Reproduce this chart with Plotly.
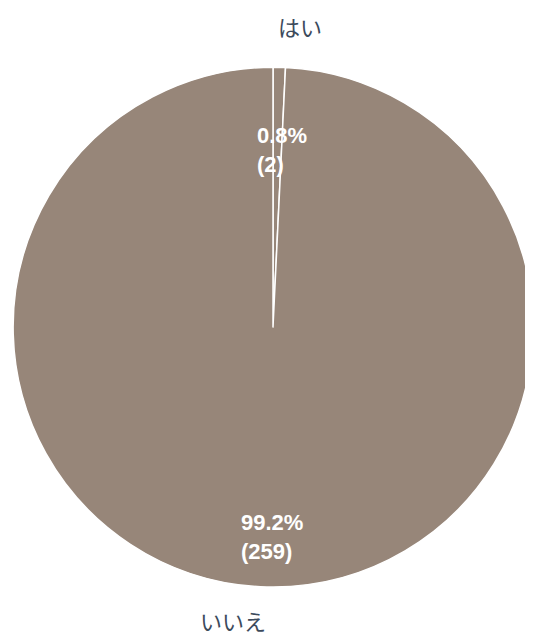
import plotly.graph_objects as go

labels = ["はい", "いいえ"]
values = [2, 259]
colors = ["#978679", "#978679"]

W, H = 525, 630   # figure size (page body has an 8px margin)
OFF = 8

def px(x, y):
    return (x - OFF) / W, 1 - (y - OFF) / H

total = sum(values)
val_txt = [f"{v / total * 100:.1f}%<br>({v})" for v in values]

fig = go.Figure()
fig.add_trace(go.Pie(
    labels=labels, values=values, sort=False, direction="clockwise", rotation=0,
    marker=dict(colors=colors, line=dict(color="white", width=1.5)),
    textinfo="none", hoverinfo="label+value+percent", showlegend=False,
    domain=dict(x=[5 / W, 1.0], y=[0.081, 0.906]),
))

num_font = dict(family="Liberation Sans, Arial", size=22, color="white", weight="bold")
# inside value labels (left aligned, two lines)
for (lx, cy), t in zip([(255, 150), (239, 537)], val_txt):
    x, y = px(lx, cy)
    fig.add_annotation(x=x, y=y, xref="paper", yref="paper", text=t, showarrow=False,
                       align="left", xanchor="left", yanchor="middle", font=num_font)

# outside category labels
cat_font = dict(family="Noto Sans CJK JP", size=22, color="#3c4a5c")
for (cx, cy), lab in zip([(300, 26), (233, 620)], labels):
    x, y = px(cx, cy)
    fig.add_annotation(x=x, y=y, xref="paper", yref="paper", text=lab, showarrow=False,
                       xanchor="center", yanchor="middle", font=cat_font)

fig.update_layout(
    width=W, height=H,
    margin=dict(l=0, r=0, t=0, b=0),
    paper_bgcolor="white", plot_bgcolor="white",
)
fig.write_html("out.html")
